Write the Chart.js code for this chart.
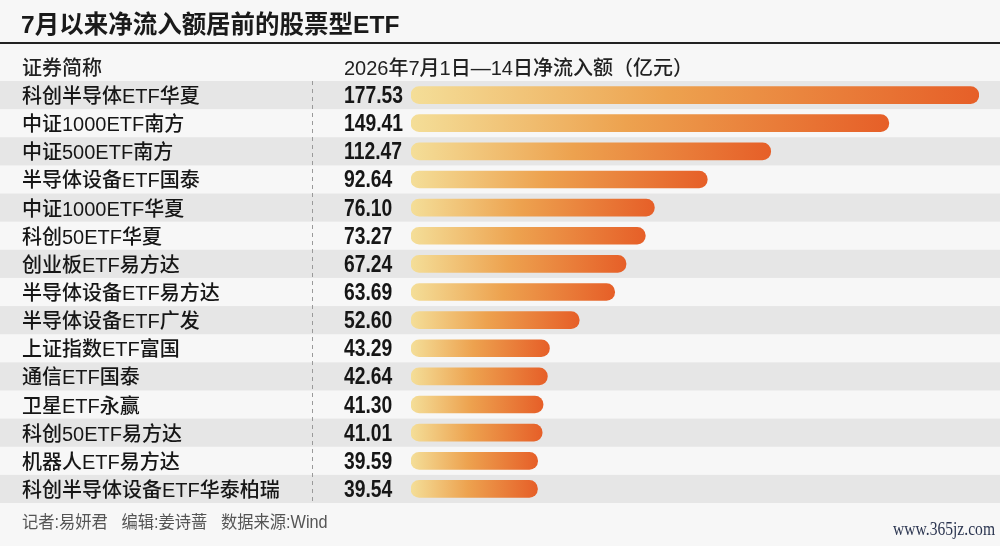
<!DOCTYPE html>
<html>
<head>
<meta charset="utf-8">
<script src="https://cdn.jsdelivr.net/npm/chart.js@4.4.1/dist/chart.umd.min.js"></script>
<style>
  html, body { margin: 0; padding: 0; background: #f7f7f7; }
  #wrap { width: 1000px; height: 546px; }
</style>
</head>
<body>
<div id="wrap"><canvas id="grafico" width="1000" height="546"></canvas></div>
<script>
// datos del grafico
const titulo = '7月以来净流入额居前的股票型ETF';
const cabeceraNombre = '证券简称';
const cabeceraValor = '2026年7月1日—14日净流入额（亿元）';
const nota = '记者:易妍君   编辑:姜诗蔷   数据来源:Wind';
const marca = 'www.365jz.com';

const nombres = ['科创半导体ETF华夏', '中证1000ETF南方', '中证500ETF南方', '半导体设备ETF国泰', '中证1000ETF华夏',
    '科创50ETF华夏', '创业板ETF易方达', '半导体设备ETF易方达', '半导体设备ETF广发', '上证指数ETF富国',
    '通信ETF国泰', '卫星ETF永赢', '科创50ETF易方达', '机器人ETF易方达', '科创半导体设备ETF华泰柏瑞'];
const flujos = [177.53, 149.41, 112.47, 92.64, 76.10, 73.27, 67.24, 63.69, 52.60, 43.29, 42.64, 41.30, 41.01, 39.59, 39.54];

const fuenteCJK = '"Liberation Sans", "Noto Sans CJK SC", sans-serif';
const fuenteNum = '"Liberation Sans", "Roboto", sans-serif';

// fondo, franjas, cabeceras y textos
const decorado = {
    id: 'decorado',
    beforeDraw(chart) {
        const ctx = chart.ctx;
        const y = chart.scales.y;
        const area = chart.chartArea;
        const alto = y.getPixelForValue(1) - y.getPixelForValue(0);
        ctx.save();
        ctx.fillStyle = '#f7f7f7';
        ctx.fillRect(0, 0, chart.width, chart.height);

        // franjas grises alternas
        nombres.forEach((n, i) => {
            if (i % 2 === 0) {
                const c = y.getPixelForValue(i);
                ctx.fillStyle = '#e6e6e6';
                ctx.fillRect(0, c - alto / 2, chart.width, alto);
            }
        });

        // titulo y linea
        ctx.fillStyle = '#1a1a1a';
        ctx.font = 'bold 24.5px ' + fuenteCJK;
        ctx.textBaseline = 'alphabetic';
        ctx.textAlign = 'left';
        ctx.fillText(titulo, 21, 33);
        ctx.fillStyle = '#222';
        ctx.fillRect(0, 42, chart.width, 2);

        // cabecera
        ctx.font = '500 20px ' + fuenteCJK;
        ctx.fillStyle = '#222';
        ctx.fillText(cabeceraNombre, 22, 75);
        ctx.fillText(cabeceraValor, 344, 75);

        // linea discontinua
        ctx.strokeStyle = '#9a9a9a';
        ctx.lineWidth = 1;
        ctx.setLineDash([4, 4]);
        ctx.beginPath();
        ctx.moveTo(312.5, area.top);
        ctx.lineTo(312.5, area.bottom);
        ctx.stroke();
        ctx.setLineDash([]);

        // nota al pie
        ctx.save();
        ctx.translate(22, 528);
        ctx.scale(0.93, 1);
        ctx.font = '17.5px ' + fuenteCJK;
        ctx.fillStyle = '#555';
        ctx.fillText(nota, 0, 0);
        ctx.restore();
        ctx.save();
        ctx.translate(995, 535);
        ctx.scale(0.82, 1);
        ctx.font = '19px "Liberation Serif", serif';
        ctx.fillStyle = '#2b3550';
        ctx.textAlign = 'right';
        ctx.fillText(marca, 0, 0);
        ctx.restore();
        ctx.restore();
    },
    afterDatasetsDraw(chart) {
        const ctx = chart.ctx;
        const y = chart.scales.y;
        ctx.save();
        ctx.textBaseline = 'alphabetic';
        ctx.textAlign = 'left';
        nombres.forEach((n, i) => {
            const c = y.getPixelForValue(i);
            ctx.fillStyle = '#161616';
            ctx.font = '500 20px ' + fuenteCJK;
            ctx.fillText(n, 22, c + 8);
            ctx.save();
            ctx.translate(344, c + 8);
            ctx.scale(0.84, 1);
            ctx.font = 'bold 23px ' + fuenteNum;
            ctx.fillText(flujos[i].toFixed(2), 0, 0);
            ctx.restore();
        });
        ctx.restore();
    }
};

function degradado(context) {
    const chart = context.chart;
    if (!chart.chartArea) return '#eb8a3c';
    const x = chart.scales.x;
    const v = flujos[context.dataIndex];
    const x0 = x.getPixelForValue(0);
    const x1 = x.getPixelForValue(v);
    const g = chart.ctx.createLinearGradient(x0, 0, x1, 0);
    g.addColorStop(0, '#f4de98');
    g.addColorStop(0.45, '#eda24f');
    g.addColorStop(1, '#e65f28');
    return g;
}

const ctx = document.getElementById('grafico');

new Chart(ctx, {
    type: 'bar',
    data: {
        labels: nombres,
        datasets: [{
            label: cabeceraValor,
            data: flujos,
            backgroundColor: degradado,
            borderWidth: 0,
            borderRadius: 9,
            borderSkipped: false,
            barThickness: 17
        }]
    },
    options: {
        indexAxis: 'y',
        responsive: false,
        animation: false,
        devicePixelRatio: 1,
        layout: {
            padding: { left: 411, right: 21, top: 81, bottom: 43 }
        },
        plugins: {
            legend: { display: false },
            tooltip: { enabled: false }
        },
        scales: {
            x: { display: false, min: 0, max: 177.6 },
            y: { display: false }
        }
    },
    plugins: [decorado]
});
</script>
</body>
</html>
